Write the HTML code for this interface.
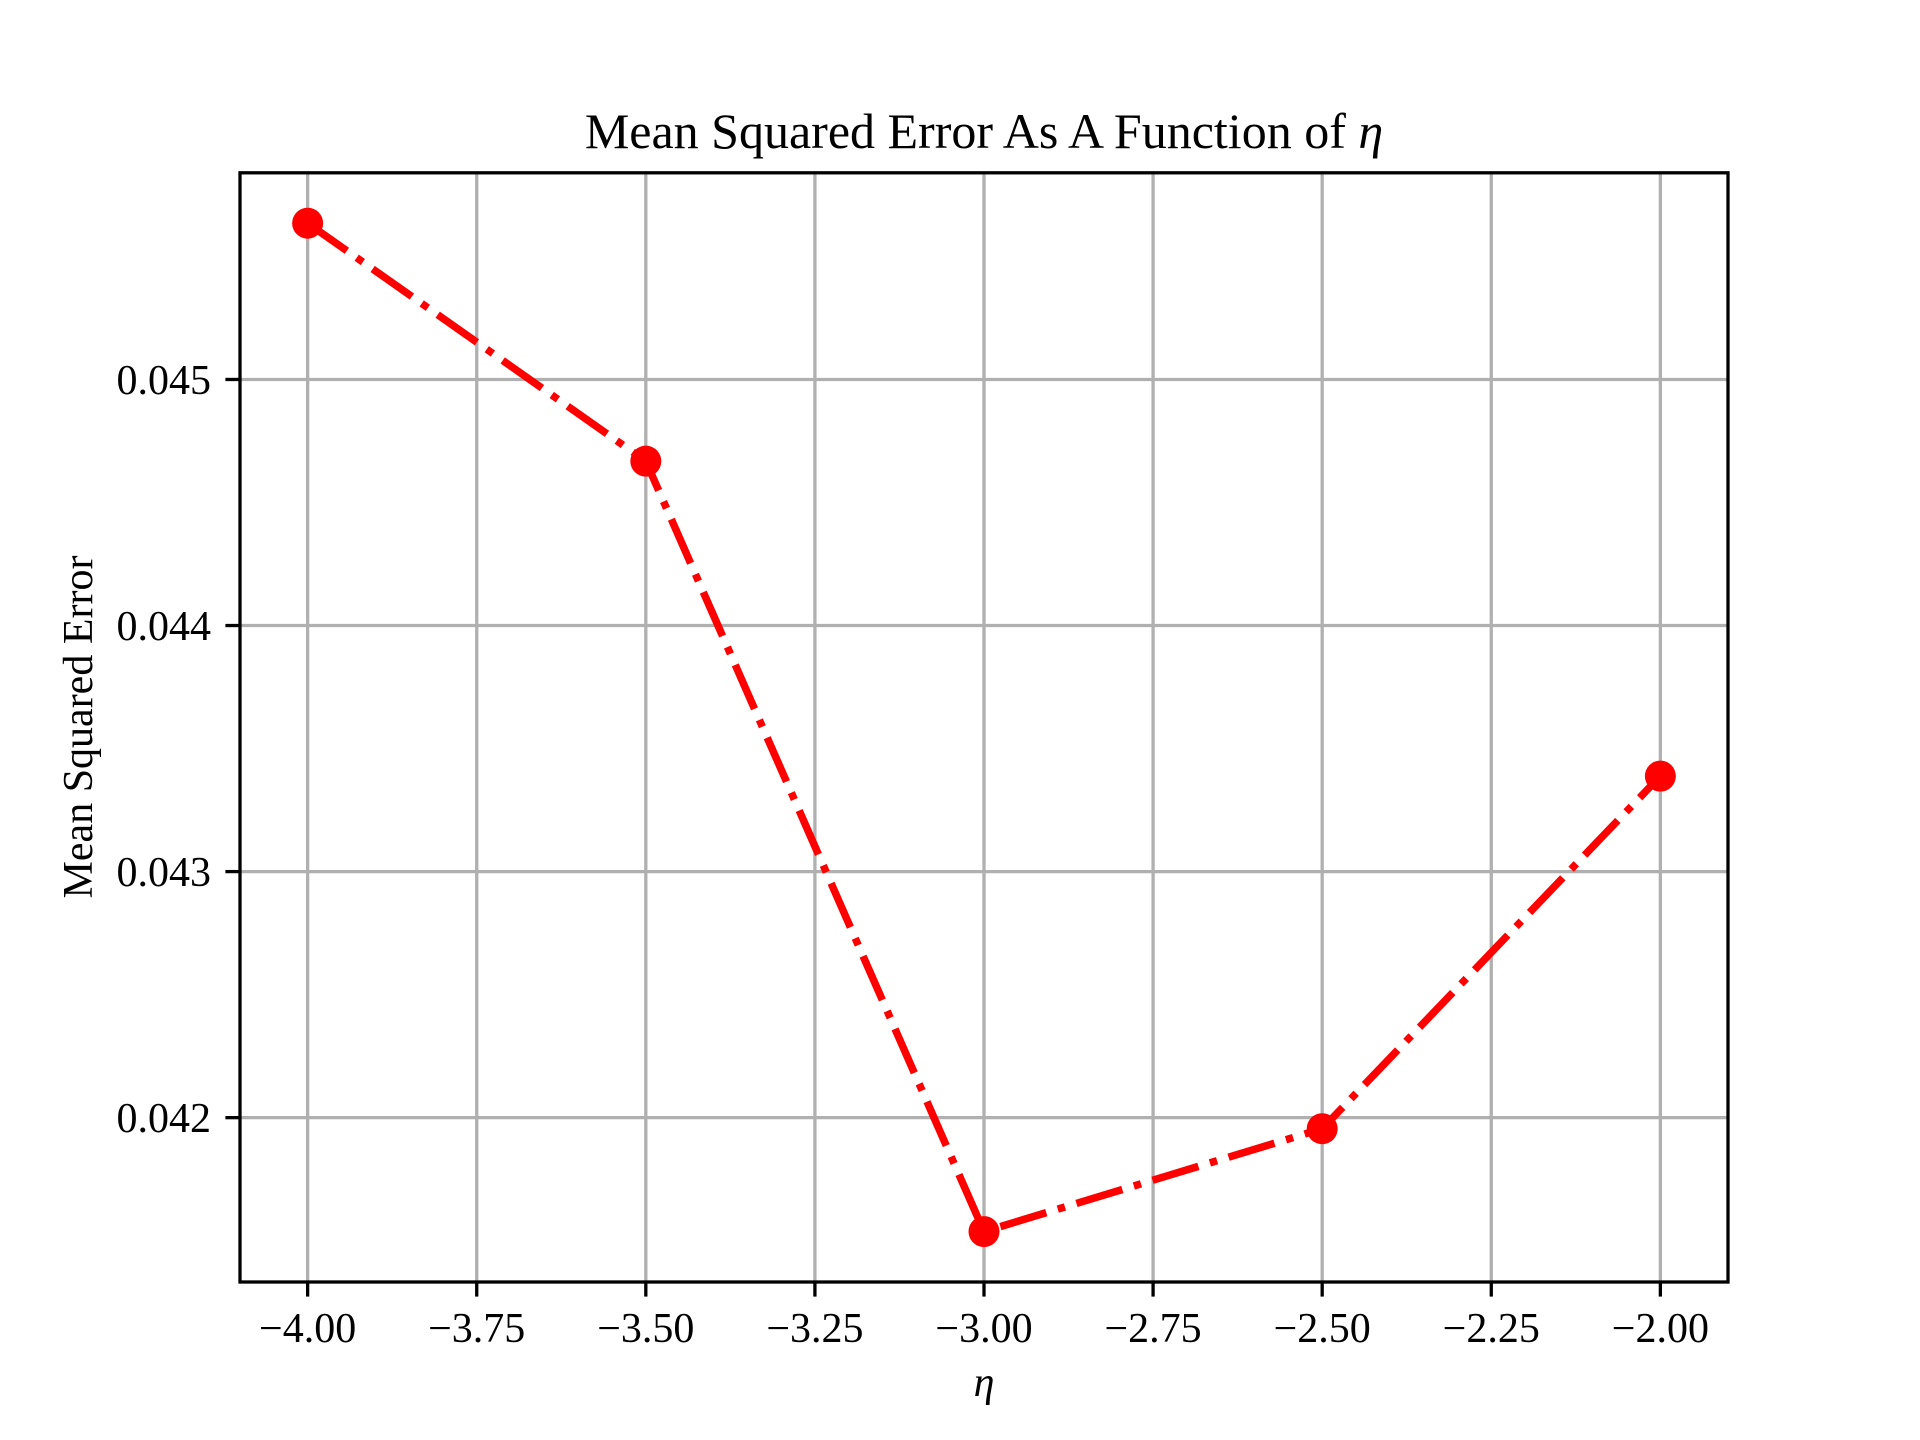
<!DOCTYPE html>
<html><head><meta charset="utf-8"><style>html,body{margin:0;padding:0;background:#fff}svg{display:block}</style></head>
<body>
<svg id="chart" width="1920" height="1440" xmlns="http://www.w3.org/2000/svg" font-family="'Liberation Serif', serif">
<rect width="1920" height="1440" fill="#fff"/>
<g id="grid"></g>
<g id="ticks"></g>
<g id="series"></g>
<rect x="240" y="172.8" width="1488" height="1109.2" fill="none" stroke="#000" stroke-width="3.3"/>
<text x="984" y="148" font-size="50" text-anchor="middle">Mean Squared Error As A Function of <tspan font-style="italic">η</tspan></text>
<text x="984" y="1396" font-size="42" text-anchor="middle" font-style="italic">η</text>
<text transform="translate(92,727) rotate(-90)" font-size="42" text-anchor="middle">Mean Squared Error</text>
</svg>
<script>
const xValues = [-4.0, -3.5, -3.0, -2.5, -2.0];
const mseValues = [0.045635, 0.044668, 0.041537, 0.041955, 0.043388];
const xTicks = [-4.0, -3.75, -3.5, -3.25, -3.0, -2.75, -2.5, -2.25, -2.0];
const xTickLabels = ["−4.00","−3.75","−3.50","−3.25","−3.00","−2.75","−2.50","−2.25","−2.00"];
const yTicks = [0.042, 0.043, 0.044, 0.045];
const yTickLabels = ["0.042","0.043","0.044","0.045"];

const NS = "http://www.w3.org/2000/svg";
const L = 240, R = 1728, T = 172.8, B = 1282;
const xmin0 = Math.min(...xValues), xmax0 = Math.max(...xValues);
const xr = xmax0 - xmin0;
const xmin = xmin0 - 0.05 * xr, xmax = xmax0 + 0.05 * xr;
const ymin0 = Math.min(...mseValues), ymax0 = Math.max(...mseValues);
const yr = ymax0 - ymin0;
const ymin = ymin0 - 0.05 * yr, ymax = ymax0 + 0.05 * yr;
const sx = v => L + (v - xmin) / (xmax - xmin) * (R - L);
const sy = v => B - (v - ymin) / (ymax - ymin) * (B - T);
function mk(tag, attrs, parent) {
  const e = document.createElementNS(NS, tag);
  for (const k in attrs) e.setAttribute(k, attrs[k]);
  parent.appendChild(e);
  return e;
}
const grid = document.getElementById('grid');
const ticks = document.getElementById('ticks');
xTicks.forEach((v, i) => {
  const x = sx(v);
  const g = mk('line', {x1: x, x2: x, y1: T, y2: B, stroke: '#b0b0b0', 'stroke-width': 3.3}, grid);
  
  
  const t = mk('line', {x1: x, x2: x, y1: B, y2: B + 14.6, stroke: '#000', 'stroke-width': 3.3}, ticks);
  
  
  const lb = mk('text', {x: x, y: B + 60, 'font-size': 42, 'text-anchor': 'middle'}, ticks);
  lb.textContent = xTickLabels[i];
  
  
});
yTicks.forEach((v, i) => {
  const y = sy(v);
  const g = mk('line', {x1: L, x2: R, y1: y, y2: y, stroke: '#b0b0b0', 'stroke-width': 3.3}, grid);
  
  
  const t = mk('line', {x1: L - 14.6, x2: L, y1: y, y2: y, stroke: '#000', 'stroke-width': 3.3}, ticks);
  
  
  const lb = mk('text', {x: L - 29, y: y + 14.5, 'font-size': 42, 'text-anchor': 'end'}, ticks);
  lb.textContent = yTickLabels[i];
  
  
});
const series = document.getElementById('series');
const pts = xValues.map((x, i) => sx(x) + ',' + sy(mseValues[i])).join(' ');
const pl = mk('polyline', {points: pts, fill: 'none', stroke: '#ff0000', 'stroke-width': 7.5, 'stroke-dasharray': '48 12 7.5 12'}, series);


xValues.forEach((x, i) => {
  const c = mk('circle', {cx: sx(x), cy: sy(mseValues[i]), r: 15.5, fill: '#ff0000'}, series);
  
  
});
</script>
</body></html>
